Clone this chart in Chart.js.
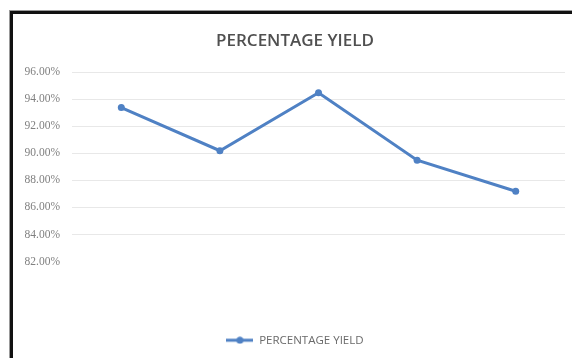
<!DOCTYPE html>
<html>
<head>
<meta charset="utf-8">
<script src="https://cdn.jsdelivr.net/npm/chart.js@4/dist/chart.umd.min.js"></script>
<style>
    html, body { margin: 0; padding: 0; background: #fff; overflow: hidden; }
    .wrap { position: relative; width: 572px; height: 358px; }
    .frame {
        position: absolute;
        left: 10px;
        top: 11px;
        width: 600px;
        height: 400px;
        border-left: 3px solid #111;
        border-top: 3px solid #111;
        box-shadow: -1px -1px 0 #999;
        pointer-events: none;
    }
    canvas { position: absolute; left: 0; top: 0; }
</style>
</head>
<body>
<div class="wrap">
    <canvas id="yieldChart" width="572" height="358"></canvas>
    <div class="frame"></div>
</div>
<script>
const categories = ["1", "2", "3", "4", "5"];
const yieldValues = [93.4, 90.2, 94.5, 89.5, 87.2];
const tickValues = [82, 84, 86, 88, 90, 92, 94, 96];

const lineColor = "#4f81c4";

// small line + dot icon for the legend, like the Excel one
const legendIcon = (() => {
    const c = document.createElement("canvas");
    c.width = 27;
    c.height = 8;
    const g = c.getContext("2d");
    g.strokeStyle = lineColor;
    g.lineWidth = 3;
    g.beginPath();
    g.moveTo(0, 4);
    g.lineTo(27, 4);
    g.stroke();
    g.fillStyle = lineColor;
    g.beginPath();
    g.arc(13.5, 4, 3.5, 0, Math.PI * 2);
    g.fill();
    return c;
})();

window.addEventListener("load", () => {
    const ctx = document.getElementById("yieldChart").getContext("2d");
    new Chart(ctx, {
        type: "line",
        data: {
            labels: categories,
            datasets: [
                {
                    label: "PERCENTAGE YIELD",
                    data: yieldValues,
                    borderColor: lineColor,
                    backgroundColor: lineColor,
                    borderWidth: 3,
                    pointRadius: 3.5,
                    pointBorderWidth: 0,
                    tension: 0,
                },
            ],
        },
        options: {
            responsive: false,
            animation: false,
            layout: {
                padding: { left: 25, right: 7, top: 0, bottom: 2 },
            },
            plugins: {
                title: {
                    display: true,
                    text: "PERCENTAGE YIELD",
                    color: "#505050",
                    font: { family: "Open Sans", size: 17, weight: "600" },
                    padding: { top: 31, bottom: 21 },
                },
                legend: {
                    position: "bottom",
                    labels: {
                        usePointStyle: true,
                        pointStyle: legendIcon,
                        pointStyleWidth: 27,
                        boxHeight: 8,
                        color: "#6a6a6a",
                        font: { family: "Open Sans", size: 11.5 },
                        padding: 10,
                    },
                },
                tooltip: { enabled: false },
            },
            scales: {
                x: {
                    offset: true,
                    grid: { display: false },
                    border: { display: false },
                    ticks: { display: false },
                    afterFit: (scale) => {
                        scale.height = 63;
                    },
                },
                y: {
                    min: 82,
                    max: 96,
                    afterBuildTicks: (scale) => {
                        scale.ticks = tickValues.map((v) => ({ value: v }));
                    },
                    afterFit: (scale) => {
                        scale.width = 47;
                    },
                    grid: {
                        drawTicks: false,
                        color: (c) => (c.tick && c.tick.value === 82 ? "rgba(0,0,0,0)" : "#e8e8e8"),
                        lineWidth: 1,
                    },
                    border: { display: false },
                    ticks: {
                        padding: 12,
                        color: "#808080",
                        font: { family: "Liberation Serif", size: 11.5 },
                        callback: (v) => v.toFixed(2) + "%",
                    },
                },
            },
        },
    });
});
</script>
</body>
</html>
